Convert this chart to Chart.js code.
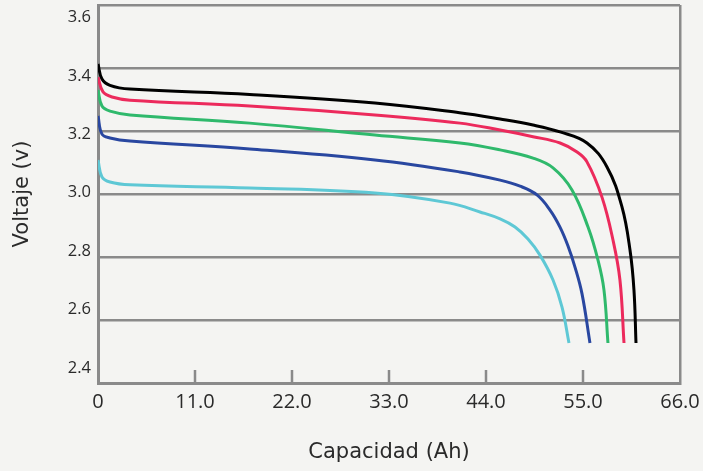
<!DOCTYPE html>
<html>
<head>
<meta charset="utf-8">
<script src="https://cdn.jsdelivr.net/npm/chart.js@4.4.1/dist/chart.umd.min.js"></script>
<style>
  html, body { margin: 0; padding: 0; background: #f4f4f2; }
  #wrap { width: 703px; height: 471px; }
</style>
</head>
<body>
<div id="wrap"><canvas id="myChart"></canvas></div>
<script>
// Tick labels
const xTickValues = [0, 11, 22, 33, 44, 55, 66];
const xTickLabels = ['0', '11.0', '22.0', '33.0', '44.0', '55.0', '66.0'];
const yTickValues = [2.4, 2.6, 2.8, 3.0, 3.2, 3.4, 3.6];
const yTickLabels = ['2.4', '2.6', '2.8', '3.0', '3.2', '3.4', '3.6'];

// Discharge curves (capacity Ah / voltage V)
const blackCap = [0, 0.45, 1.36, 3.63, 17.2, 31.4, 41.0, 45.6, 49.33, 52.4, 55.45, 57.72, 59.42, 60.33, 60.78, 61.01];
const blackVolt = [3.413, 3.365, 3.345, 3.333, 3.316, 3.289, 3.258, 3.238, 3.219, 3.197, 3.162, 3.086, 2.959, 2.822, 2.695, 2.527];

const redCap = [0, 0.57, 1.59, 3.63, 17.2, 31.4, 41.05, 45.6, 49.33, 52.4, 54.28, 55.45, 57.15, 58.4, 59.19, 59.65];
const redVolt = [3.371, 3.324, 3.308, 3.298, 3.279, 3.251, 3.225, 3.203, 3.182, 3.162, 3.134, 3.102, 2.990, 2.854, 2.727, 2.527];

const greenCap = [0, 0.45, 1.36, 3.63, 17.2, 31.4, 41.05, 45.6, 49.33, 51.6, 53.75, 55.57, 56.7, 57.38, 57.83];
const greenVolt = [3.330, 3.279, 3.263, 3.251, 3.225, 3.187, 3.162, 3.140, 3.114, 3.083, 3.013, 2.895, 2.790, 2.695, 2.527];

const blueCap = [0, 0.45, 1.36, 3.63, 17.2, 31.4, 41.05, 45.6, 47.86, 49.78, 51.26, 52.39, 53.3, 54.09, 54.89, 55.79];
const blueVolt = [3.248, 3.190, 3.178, 3.168, 3.143, 3.108, 3.070, 3.044, 3.025, 2.997, 2.949, 2.895, 2.835, 2.768, 2.683, 2.527];

const cyanCap = [0, 0.45, 1.36, 3.63, 17.2, 31.4, 39.92, 43.32, 45.6, 47.29, 48.76, 50.12, 51.6, 52.62, 53.41];
const cyanVolt = [3.108, 3.054, 3.038, 3.029, 3.019, 3.003, 2.971, 2.943, 2.921, 2.895, 2.857, 2.806, 2.727, 2.641, 2.527];

const toPoints = (xs, ys) => xs.map((x, i) => ({ x: x, y: ys[i] }));

const GRID = '#8a8a8a';
const TEXT = '#2a2a2a';

// small tick marks pointing up into the plot
const innerTicks = {
  id: 'innerTicks',
  afterDatasetsDraw(chart) {
    const ctx = chart.ctx;
    const x = chart.scales.x;
    const bottom = chart.chartArea.bottom;
    ctx.save();
    ctx.strokeStyle = GRID;
    ctx.lineWidth = 2.5;
    xTickValues.slice(1, -1).forEach((v) => {
      const px = x.getPixelForValue(v);
      ctx.beginPath();
      ctx.moveTo(px, bottom);
      ctx.lineTo(px, bottom - 13);
      ctx.stroke();
    });
    ctx.restore();
  },
};

const line = (xs, ys, color) => ({
  data: toPoints(xs, ys),
  borderColor: color,
  borderWidth: 3,
  pointRadius: 0,
  fill: false,
  tension: 0.4,
});

const chart = new Chart(document.getElementById('myChart').getContext('2d'), {
  type: 'line',
  data: {
    datasets: [
      line(cyanCap, cyanVolt, '#5ec8d5'),
      line(blueCap, blueVolt, '#2947a0'),
      line(greenCap, greenVolt, '#2fb96c'),
      line(redCap, redVolt, '#ec2a5c'),
      line(blackCap, blackVolt, '#000000'),
    ],
  },
  plugins: [innerTicks],
  options: {
    responsive: true,
    maintainAspectRatio: false,
    animation: false,
    layout: { padding: { left: 0, top: 5, right: 23, bottom: 0 } },
    plugins: { legend: { display: false }, tooltip: { enabled: false } },
    scales: {
      x: {
        type: 'linear',
        min: 0,
        max: 66,
        afterBuildTicks: (s) => { s.ticks = xTickValues.map((v) => ({ value: v })); },
        afterFit: (s) => { s.height = 88; s.paddingLeft = 0; s.paddingRight = 0; },
        ticks: {
          color: TEXT,
          font: { family: 'Open Sans', size: 20 },
          padding: 7,
          maxRotation: 0,
          callback: (v) => xTickLabels[xTickValues.indexOf(v)],
        },
        grid: {
          drawTicks: false,
          lineWidth: 2.5,
          color: (c) => (c.tick && c.tick.value === 66 ? GRID : 'transparent'),
        },
        border: { color: GRID, width: 3 },
        title: {
          display: true,
          text: 'Capacidad (Ah)',
          color: TEXT,
          font: { family: 'DejaVu Sans', size: 21 },
          padding: { top: 0, bottom: 6 },
        },
      },
      y: {
        type: 'linear',
        position: 'left',
        weight: 0,
        min: 2.4,
        max: 3.6,
        afterBuildTicks: (s) => { s.ticks = yTickValues.map((v) => ({ value: v })); },
        afterFit: (s) => { s.width = 0; s.paddingTop = 0; s.paddingBottom = 0; },
        ticks: { display: false },
        grid: { drawTicks: false, lineWidth: 2.5, color: GRID },
        border: { color: GRID, width: 3 },
      },
      // label-only axis: the printed labels sit slightly off the grid lines
      yLabels: {
        type: 'linear',
        position: 'left',
        weight: 1,
        min: 2.3486,
        max: 3.6428,
        afterBuildTicks: (s) => { s.ticks = yTickValues.map((v) => ({ value: v })); },
        afterFit: (s) => { s.width = 98; s.paddingTop = 0; s.paddingBottom = 0; },
        ticks: {
          color: TEXT,
          font: { family: 'Open Sans', size: 16.5 },
          padding: 7,
          callback: (v) => yTickLabels[yTickValues.indexOf(v)],
        },
        grid: { display: false, drawTicks: false },
        border: { display: false },
        title: {
          display: true,
          text: 'Voltaje (v)',
          color: TEXT,
          font: { family: 'DejaVu Sans', size: 21 },
          padding: { top: 10, bottom: 0 },
        },
      },
    },
  },
});
</script>
</body>
</html>
